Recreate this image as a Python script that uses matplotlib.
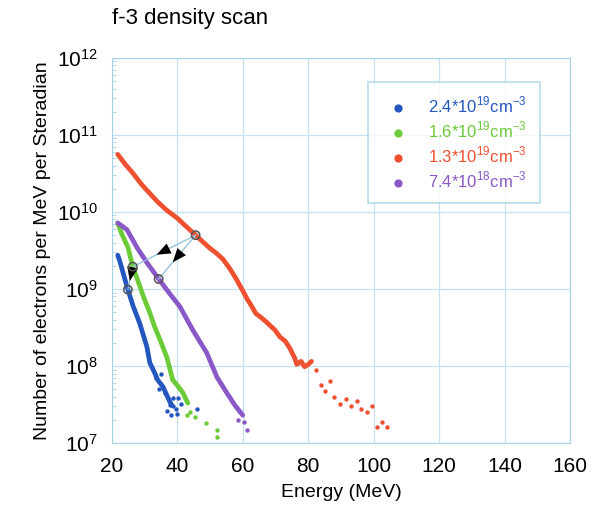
import matplotlib
matplotlib.use('Agg')
import matplotlib.pyplot as plt

plt.rcParams['font.family'] = ['Liberation Sans', 'DejaVu Sans']
plt.rcParams['mathtext.fontset'] = 'custom'
plt.rcParams['mathtext.rm'] = 'Liberation Sans'

# ── data ───────────────────────────────────────────────────────────────────
blue_e = [21.8, 22.5, 23.5, 24.9, 26.5, 28.5, 30.7, 31.6, 33.0, 34.0, 35.6, 37.0, 38.3]
blue_n = [2.75e9, 2.24e9, 1.58e9, 9.8e8, 6.0e8, 3.6e8, 1.78e8, 1.1e8, 8.3e7, 6.6e7, 5.4e7, 4.0e7, 3.1e7]
blue_tail_e = [33.5, 34.5, 35.0, 36.2, 37.5, 37.7, 38.6, 38.8, 39.5, 40.1, 41.0, 37.0, 38.0, 39.8, 45.9]
blue_tail_n = [7.0e7, 5.0e7, 8.0e7, 4.5e7, 3.5e7, 3.1e7, 3.0e7, 3.8e7, 2.8e7, 3.8e7, 3.2e7, 2.6e7, 2.3e7, 2.4e7, 2.8e7]

green_e = [21.8, 23.0, 24.9, 26.4, 27.9, 29.5, 31.6, 33.0, 34.7, 36.8, 38.6, 40.0, 41.7, 43.2]
green_n = [7.2e9, 5.2e9, 3.5e9, 1.95e9, 1.3e9, 8.3e8, 4.9e8, 3.3e8, 2.2e8, 1.3e8, 6.6e7, 5.6e7, 4.5e7, 3.3e7]
green_tail_e = [42.9, 44.0, 45.3, 48.7, 52.1, 52.1]
green_tail_n = [2.3e7, 2.5e7, 2.2e7, 1.8e7, 1.5e7, 1.2e7]

red_e = [21.8, 24.0, 26.4, 29.0, 31.6, 34.0, 36.8, 40.0, 42.5, 45.6, 47.5, 49.9, 52.0, 53.9,
         56.0, 58.0, 60.0, 61.2, 62.7, 64.0, 65.5, 67.0, 68.2, 69.8, 71.3, 73.0, 74.4, 75.9, 76.5,
         77.8, 78.9, 80.0, 81.0]
red_n = [5.6e10, 4.2e10, 3.2e10, 2.3e10, 1.74e10, 1.35e10, 1.05e10, 8.3e9, 6.6e9, 5.0e9, 4.2e9,
         3.4e9, 2.9e9, 2.45e9, 1.85e9, 1.35e9, 9.5e8, 7.6e8, 6.0e8, 4.8e8, 4.3e8, 3.8e8, 3.4e8,
         2.95e8, 2.4e8, 2.1e8, 1.7e8, 1.26e8, 1.05e8, 1.15e8, 9.8e7, 1.05e8, 1.15e8]
red_tail_e = [82.5, 84.0, 85.0, 86.6, 88.0, 89.6, 91.7, 93.0, 94.8, 96.0, 97.9, 99.4, 100.9, 102.7, 104.2]
red_tail_n = [8.9e7, 5.6e7, 4.7e7, 6.3e7, 4.0e7, 3.2e7, 3.7e7, 3.0e7, 3.5e7, 2.8e7, 2.5e7, 3.0e7,
              1.6e7, 1.9e7, 1.6e7]

purple_e = [21.8, 24.6, 27.6, 30.7, 34.3, 37.5, 40.8, 44.7, 49.0, 52.1, 55.1, 57.6, 60.0]
purple_n = [7.2e9, 5.9e9, 3.5e9, 2.2e9, 1.35e9, 8.9e8, 5.9e8, 2.95e8, 1.48e8, 7.2e7, 4.5e7, 3.1e7, 2.3e7]
purple_tail_e = [58.5, 59.0, 60.5, 61.2]
purple_tail_n = [2.0e7, 2.6e7, 1.9e7, 1.5e7]

labels = [r"2.4*10$^{19}$cm$^{-3}$", r"1.6*10$^{19}$cm$^{-3}$",
          r"1.3*10$^{19}$cm$^{-3}$", r"7.4*10$^{18}$cm$^{-3}$"]

# peak markers (open circles) and the arrows linking them
peak_e = [45.6, 26.4, 34.3, 24.9]
peak_n = [5.0e9, 1.95e9, 1.35e9, 9.8e8]

BLUE   = "#2456c0"
GREEN  = "#6ccc38"
RED    = "#ee5030"
PURPLE = "#8a58c8"
GRIDC  = "#c4e2f0"
SPINE  = "#a6d2e6"

fig = plt.figure(figsize=(5.95, 5.17), dpi=100)
ax = fig.add_axes([0.188, 0.143, 0.770, 0.745])

series = [
    (blue_e, blue_n, blue_tail_e, blue_tail_n, BLUE),
    (green_e, green_n, green_tail_e, green_tail_n, GREEN),
    (red_e, red_n, red_tail_e, red_tail_n, RED),
    (purple_e, purple_n, purple_tail_e, purple_tail_n, PURPLE),
]
handles = []
for e, n, te, tn, c in series:
    ax.plot(e, n, color=c, lw=3.4, solid_capstyle="round", solid_joinstyle="round", zorder=3)
    ax.scatter(te, tn, s=10, color=c, zorder=3, linewidths=0)
    h = ax.scatter([], [], s=24, color=c)
    handles.append(h)

# connecting lines + arrowheads
links = [(0, 1), (0, 2), (1, 3)]
for a, b in links:
    ax.plot([peak_e[a], peak_e[b]], [peak_n[a], peak_n[b]], color="#8cc0dc", lw=0.9, zorder=4)
    me = peak_e[a] + 0.62 * (peak_e[b] - peak_e[a])
    mn = peak_n[a] * (peak_n[b] / peak_n[a]) ** 0.62
    se = peak_e[a] + 0.3 * (peak_e[b] - peak_e[a])
    sn = peak_n[a] * (peak_n[b] / peak_n[a]) ** 0.3
    ax.annotate("", xy=(me, mn), xytext=(se, sn),
                arrowprops=dict(arrowstyle="-|>,head_length=1.0,head_width=0.4",
                                color="black", lw=0.01, mutation_scale=10,
                                shrinkA=0, shrinkB=0),
                zorder=5)
ax.scatter(peak_e, peak_n, s=36, facecolors="none", edgecolors="#555555", linewidths=1.1, zorder=6)

ax.set_yscale("log")
ax.set_xlim(20, 160)
ax.set_ylim(1e7, 1e12)
ax.set_xticks(range(20, 161, 20))
ax.set_yticks([1e7, 1e8, 1e9, 1e10, 1e11, 1e12])
ax.grid(True, which="major", color=GRIDC, lw=0.9)
ax.set_axisbelow(True)
for s in ax.spines.values():
    s.set_color(SPINE)
ax.tick_params(axis="both", which="major", labelsize=15, length=0, pad=10)
ax.tick_params(axis="y", which="minor", direction="in", color=SPINE, length=3)
ax.tick_params(axis="x", which="minor", length=0)

ax.set_xlabel("Energy (MeV)", fontsize=14, labelpad=6)
ax.set_ylabel("Number of electrons per MeV per Steradian", fontsize=14, labelpad=4)
fig.text(0.188, 0.965, "f-3 density scan", fontsize=16, ha="left", va="center")

leg = ax.legend(handles, labels, loc="upper left", bbox_to_anchor=(0.559, 0.938),
                fontsize=12, frameon=True, fancybox=False, edgecolor=SPINE,
                handletextpad=0.8, borderpad=0.8, labelspacing=0.25, handlelength=2.0,
                borderaxespad=0)
leg.get_frame().set_linewidth(1.2)
for t, c in zip(leg.get_texts(), [BLUE, GREEN, RED, PURPLE]):
    t.set_color(c)

fig.savefig("out.png", dpi=100)
